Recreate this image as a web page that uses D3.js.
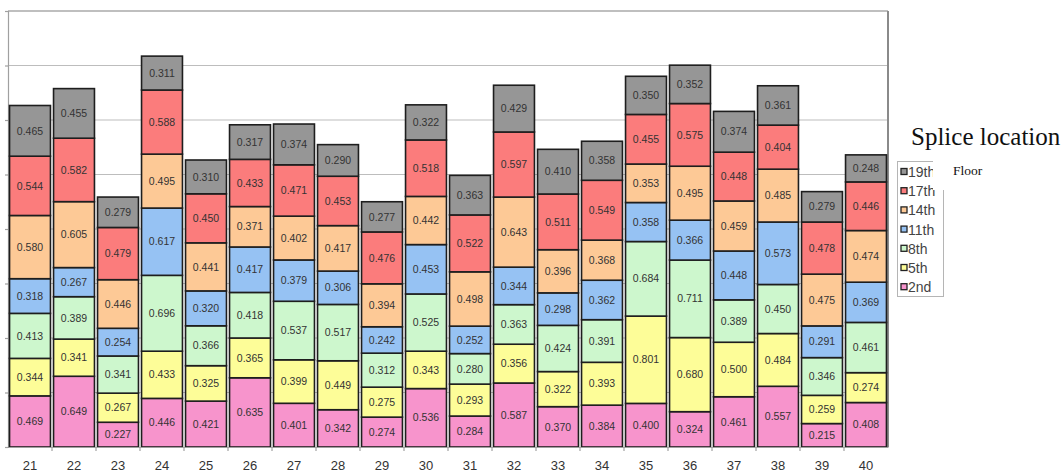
<!DOCTYPE html>
<html>
<head>
<meta charset="utf-8">
<script src="https://cdn.jsdelivr.net/npm/d3@7"></script>
<style>
  html, body { margin: 0; padding: 0; background: #fff; }
  svg { display: block; }
</style>
</head>
<body>
<svg id="chart" width="1064" height="472"></svg>
<script>
// Test locations along the x axis
const categories = ["21","22","23","24","25","26","27","28","29","30",
                    "31","32","33","34","35","36","37","38","39","40"];

// Floor series, stacked from the bottom up
const floors = ["2nd","5th","8th","11th","14th","17th","19th"];

const floor2nd  = [0.469,0.649,0.227,0.446,0.421,0.635,0.401,0.342,0.274,0.536,0.284,0.587,0.370,0.384,0.400,0.324,0.461,0.557,0.215,0.408];
const floor5th  = [0.344,0.341,0.267,0.433,0.325,0.365,0.399,0.449,0.275,0.343,0.293,0.356,0.322,0.393,0.801,0.680,0.500,0.484,0.259,0.274];
const floor8th  = [0.413,0.389,0.341,0.696,0.366,0.418,0.537,0.517,0.312,0.525,0.280,0.363,0.424,0.391,0.684,0.711,0.389,0.450,0.346,0.461];
const floor11th = [0.318,0.267,0.254,0.617,0.320,0.417,0.379,0.306,0.242,0.453,0.252,0.344,0.298,0.362,0.358,0.366,0.448,0.573,0.291,0.369];
const floor14th = [0.580,0.605,0.446,0.495,0.441,0.371,0.402,0.417,0.394,0.442,0.498,0.643,0.396,0.368,0.353,0.495,0.459,0.485,0.475,0.474];
const floor17th = [0.544,0.582,0.479,0.588,0.450,0.433,0.471,0.453,0.476,0.518,0.522,0.597,0.511,0.549,0.455,0.575,0.448,0.404,0.478,0.446];
const floor19th = [0.465,0.455,0.279,0.311,0.310,0.317,0.374,0.290,0.277,0.322,0.363,0.429,0.410,0.358,0.350,0.352,0.374,0.361,0.279,0.248];

const seriesValues = [floor2nd, floor5th, floor8th, floor11th, floor14th, floor17th, floor19th];
const yTicks = [0, 0.5, 1, 1.5, 2, 2.5, 3, 3.5, 4];

const colors = {
  "2nd":  "#f794cc",
  "5th":  "#fdfd98",
  "8th":  "#cdf7cd",
  "11th": "#96c2f3",
  "14th": "#fdc996",
  "17th": "#fb7c7c",
  "19th": "#969696"
};

// Row objects for d3.stack
const rows = categories.map((c, i) => {
  const r = { cat: c };
  floors.forEach((f, k) => { r[f] = seriesValues[k][i]; });
  return r;
});

const svg = d3.select("#chart");
const plot = { left: 8, right: 888, top: 11, bottom: 447 };

const x = d3.scaleBand()
  .domain(categories)
  .range([plot.left, plot.right])
  .paddingInner(0.07)
  .paddingOuter(0.035);

const y = d3.scaleLinear()
  .domain([0, 4])
  .range([plot.bottom, plot.top]);

// Horizontal gridlines
svg.append("g")
  .selectAll("line")
  .data(yTicks.filter(t => t > 0 && t < 4))
  .join("line")
  .attr("x1", plot.left).attr("x2", plot.right)
  .attr("y1", d => y(d)).attr("y2", d => y(d))
  .attr("stroke", "#bdbdbd")
  .attr("stroke-width", 1.2);

// Frame: top and right edges
svg.append("line")
  .attr("x1", plot.left).attr("x2", plot.right)
  .attr("y1", plot.top).attr("y2", plot.top)
  .attr("stroke", "#aaa").attr("stroke-width", 1.5);
svg.append("line")
  .attr("x1", plot.right).attr("x2", plot.right)
  .attr("y1", plot.top).attr("y2", plot.bottom)
  .attr("stroke", "#8a8a8a").attr("stroke-width", 2);

// Left axis: line with small ticks, no labels
const yAxis = d3.axisLeft(y).tickValues(yTicks).tickSize(3).tickFormat("");
const yg = svg.append("g").attr("transform", `translate(${plot.left},0)`).call(yAxis);
yg.selectAll("path, line").attr("stroke", "#a0a0a0").attr("stroke-width", 1.2);

// Stacked bars
const stacked = d3.stack().keys(floors)(rows);

const layers = svg.append("g")
  .selectAll("g")
  .data(stacked)
  .join("g")
  .attr("fill", d => colors[d.key]);

layers.selectAll("rect")
  .data(d => d)
  .join("rect")
  .attr("x", d => x(d.data.cat))
  .attr("width", x.bandwidth())
  .attr("y", d => y(d[1]))
  .attr("height", d => y(d[0]) - y(d[1]))
  .attr("stroke", "#1e1e1e")
  .attr("stroke-width", 1.6);

// Value labels in each segment
layers.selectAll("text")
  .data(d => d.map(p => ({ p, key: d.key })))
  .join("text")
  .attr("x", d => x(d.p.data.cat) + x.bandwidth() / 2)
  .attr("y", d => (y(d.p[0]) + y(d.p[1])) / 2)
  .attr("dy", "0.35em")
  .attr("text-anchor", "middle")
  .attr("font-family", "Arial, 'Liberation Sans', sans-serif")
  .attr("font-size", 10.5)
  .attr("fill", "#333")
  .text(d => d.p.data[d.key].toFixed(3));

// Bottom axis
const xAxis = d3.axisBottom(x).tickSize(0).tickPadding(14);
const xg = svg.append("g").attr("transform", `translate(0,${plot.bottom})`).call(xAxis);
xg.select(".domain").attr("stroke", "#a0a0a0").attr("stroke-width", 1.2);
xg.selectAll("text")
  .attr("font-family", "Arial, 'Liberation Sans', sans-serif")
  .attr("font-size", 13)
  .attr("fill", "#333");

// Small tick marks between the bars
const step = x.step();
const boundaries = categories.slice(1).map(c => x(c) - (step - x.bandwidth()) / 2);
svg.append("g")
  .selectAll("line")
  .data(boundaries)
  .join("line")
  .attr("x1", d => d).attr("x2", d => d)
  .attr("y1", plot.bottom).attr("y2", plot.bottom + 4)
  .attr("stroke", "#a0a0a0").attr("stroke-width", 1.2);

// Legend (top floor first)
const legend = svg.append("g");
const legendOrder = floors.slice().reverse();
legend.append("rect")
  .attr("x", 897.5).attr("y", 161.5)
  .attr("width", 46).attr("height", 135)
  .attr("fill", "#fff")
  .attr("stroke", "#b5b5b5");

const items = legend.selectAll("g.item")
  .data(legendOrder)
  .join("g")
  .attr("class", "item")
  .attr("transform", (d, i) => `translate(901,${172 + i * 19.2})`);

items.append("rect")
  .attr("x", 0).attr("y", -3.5)
  .attr("width", 6).attr("height", 6)
  .attr("fill", d => colors[d])
  .attr("stroke", "#222")
  .attr("stroke-width", 1.3);

items.append("text")
  .attr("x", 7).attr("y", 0)
  .attr("dy", "0.35em")
  .attr("font-family", "Arial, 'Liberation Sans', sans-serif")
  .attr("font-size", 14)
  .attr("fill", "#444")
  .text(d => d);

// Caption box overlapping the legend's upper right corner
svg.append("rect")
  .attr("x", 933).attr("y", 152)
  .attr("width", 80).attr("height", 38)
  .attr("fill", "#fff");

svg.append("text")
  .attr("x", 953).attr("y", 175)
  .attr("font-family", "'Liberation Serif', 'Times New Roman', serif")
  .attr("font-size", 13.5)
  .attr("fill", "#111")
  .text("Floor");

svg.append("text")
  .attr("x", 911).attr("y", 145)
  .attr("font-family", "'Liberation Serif', 'Times New Roman', serif")
  .attr("font-size", 25)
  .attr("fill", "#111")
  .text("Splice location");
</script>
</body>
</html>
